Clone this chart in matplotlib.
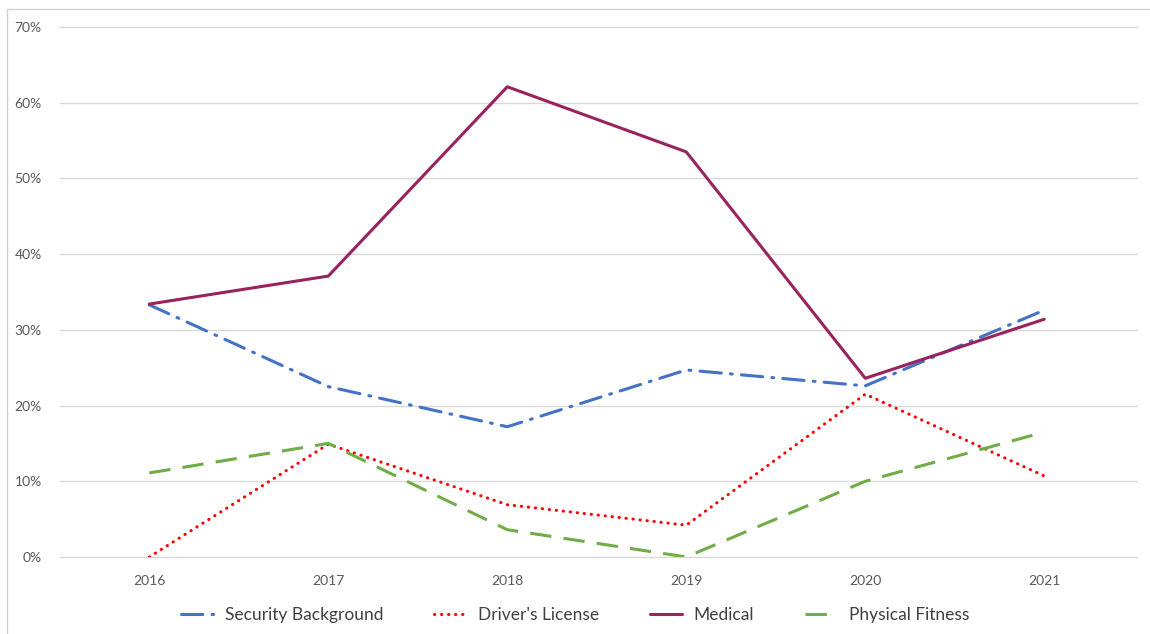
import matplotlib.pyplot as plt
from matplotlib.patches import Rectangle
from matplotlib.ticker import PercentFormatter

years = ["2016", "2017", "2018", "2019", "2020", "2021"]
security = [33.3, 22.5, 17.2, 24.7, 22.6, 32.6]
drivers = [0.0, 14.9, 6.9, 4.2, 21.5, 10.7]
medical = [33.4, 37.1, 62.1, 53.5, 23.6, 31.4]
fitness = [11.1, 15.0, 3.6, 0.0, 10.0, 16.5]

plt.rcParams["font.family"] = ["Lato", "DejaVu Sans"]

fig = plt.figure(figsize=(11.5, 6.34), dpi=100)
ax = fig.add_axes([0.052, 0.1215, 0.937, 0.836])

x = range(len(years))
ax.plot(x, security, color="#4472C4", lw=2.2, dashes=(7, 3, 0.6, 3),
        dash_capstyle="round", label="Security Background")
ax.plot(x, drivers, color="#FF0000", lw=2.2, dashes=(0.1, 2.2),
        dash_capstyle="round", label="Driver's License")
ax.plot(x, medical, color="#99235C", lw=2.2, solid_capstyle="round", label="Medical")
ax.plot(x, fitness, color="#70AD47", lw=2.2, dashes=(7, 4), label="Physical Fitness")

ax.set_xlim(-0.5, 5.52)
ax.set_ylim(0, 70)
ax.set_xticks(list(x))
ax.set_xticklabels(years)
ax.set_yticks(range(0, 71, 10))
ax.yaxis.set_major_formatter(PercentFormatter(decimals=0))
ax.grid(axis="y", color="#D9D9D9", lw=1)
for gl in ax.get_ygridlines():
    gl.set_clip_on(False)
ax.set_axisbelow(True)
for s in ax.spines.values():
    s.set_visible(False)
ax.tick_params(length=0, colors="#595959", labelsize=10)
ax.tick_params(axis="y", pad=13)
ax.tick_params(axis="x", pad=13)

fig.legend(loc="center", bbox_to_anchor=(0.5, 0.03), ncol=4, frameon=False,
           fontsize=12.5, labelcolor="#404040", handlelength=1.85,
           handletextpad=0.7, columnspacing=2.9)

fig.add_artist(Rectangle((7 / 1150, -0.01), 1.1, 1 - 9 / 634 + 0.01,
                         transform=fig.transFigure, fill=False,
                         edgecolor="#D0D0D0", lw=1))

fig.savefig("out.png", dpi=100)
